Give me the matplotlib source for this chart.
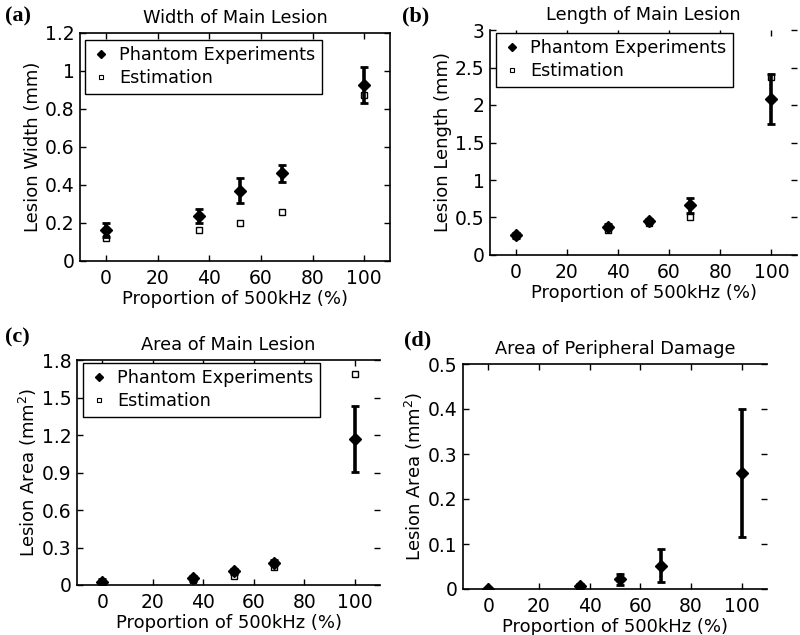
import matplotlib
matplotlib.use("Agg")
import matplotlib.pyplot as plt
import numpy as np

plt.rcParams['font.family'] = ['DejaVu Sans']
plt.rcParams['mathtext.default'] = 'regular'

x = [0, 36, 52, 68, 100]

# (a) width
width_exp = [0.163, 0.237, 0.37, 0.462, 0.928]
width_err = [0.035, 0.035, 0.066, 0.045, 0.095]
width_est = [0.12, 0.163, 0.20, 0.258, 0.873]

# (b) length
length_exp = [0.26, 0.377, 0.456, 0.665, 2.08]
length_err = [0.03, 0.03, 0.03, 0.10, 0.33]
length_est = [0.25, 0.33, 0.43, 0.51, 2.37]

# (c) area
area_exp = [0.027, 0.053, 0.11, 0.18, 1.168]
area_err = [0.02, 0.02, 0.02, 0.02, 0.265]
area_est = [0.02, 0.04, 0.07, 0.147, 1.685]

# (d) peripheral
peri_exp = [0.0, 0.006, 0.022, 0.052, 0.258]
peri_err = [0.003, 0.005, 0.012, 0.036, 0.143]

titles = ["Width of Main Lesion", "Length of Main Lesion",
          "Area of Main Lesion", "Area of Peripheral Damage"]
ylabels = ["Lesion Width (mm)", "Lesion Length (mm)",
           "Lesion Area (mm$^2$)", "Lesion Area (mm$^2$)"]
panel_labels = ["(a)", "(b)", "(c)", "(d)"]
xlabel = "Proportion of 500kHz (%)"

yticks = [
    [0, 0.2, 0.4, 0.6, 0.8, 1.0, 1.2],
    [0, 0.5, 1, 1.5, 2, 2.5, 3],
    [0, 0.3, 0.6, 0.9, 1.2, 1.5, 1.8],
    [0, 0.1, 0.2, 0.3, 0.4, 0.5],
]
yticklabels = [
    ["0", "0.2", "0.4", "0.6", "0.8", "1", "1.2"],
    ["0", "0.5", "1", "1.5", "2", "2.5", "3"],
    ["0", "0.3", "0.6", "0.9", "1.2", "1.5", "1.8"],
    ["0", "0.1", "0.2", "0.3", "0.4", "0.5"],
]
xticks = [0, 20, 40, 60, 80, 100]

W, H = 800, 635
fig = plt.figure(figsize=(8, 6.35), dpi=100)

def rect(l, r, t, b):
    return [l / W, 1 - b / H, (r - l) / W, (b - t) / H]

rects = [rect(80, 390, 33, 261), rect(490, 797, 30, 255),
         rect(77, 380, 360, 585), rect(463, 767, 364, 589)]
spines_on = [
    dict(top=True, right=True),
    dict(top=False, right=False),
    dict(top=True, right=False),
    dict(top=True, right=False),
]
legend_pos = [(85, 40), (496, 33), (83, 363), None]
label_pos = [(5, 16), (402, 16), (5, 337), (404, 340)]

exps = [width_exp, length_exp, area_exp, peri_exp]
errs = [width_err, length_err, area_err, peri_err]
ests = [width_est, length_est, area_est, None]

fs = 12.5
for i in range(4):
    ax = fig.add_axes(rects[i])
    ax.errorbar(x, exps[i], yerr=errs[i], fmt='D', color='black',
                ms=6.5, elinewidth=2.6, capsize=3, capthick=2,
                label='Phantom Experiments', zorder=3)
    if ests[i] is not None:
        ax.plot(x, ests[i], 's', ms=4.5, mfc='white', mec='black', mew=1,
                label='Estimation', zorder=2)
    ax.set_xlim(-10, 110)
    ax.set_ylim(yticks[i][0], yticks[i][-1])
    ax.set_xticks(xticks)
    ax.set_xticklabels([str(v) for v in xticks], fontsize=fs + 1)
    ax.set_yticks(yticks[i])
    ax.set_yticklabels(yticklabels[i], fontsize=fs + 1)
    ax.tick_params(direction='in', top=True, right=True, length=4,
                   width=1)
    ax.tick_params(axis='y', pad=4)
    ax.tick_params(axis='x', pad=6)
    for s in ['top', 'right']:
        ax.spines[s].set_visible(spines_on[i][s])
    for s in ax.spines.values():
        s.set_linewidth(1.2)
    ax.set_xlabel(xlabel, fontsize=fs + 0.5, labelpad=1)
    ax.set_ylabel(ylabels[i], fontsize=fs + 0.5, labelpad=2)
    ax.set_title(titles[i], fontsize=12.8, pad=7)
    if legend_pos[i] is not None:
        lx, ly = legend_pos[i]
        hs2 = [plt.Line2D([], [], ls='none', marker='D', color='black', ms=4),
               plt.Line2D([], [], ls='none', marker='s', ms=3.5, mfc='white',
                          mec='black', mew=0.8)]
        leg = ax.legend(hs2, ['Phantom Experiments', 'Estimation'],
                        loc='upper left', bbox_to_anchor=(lx / W, 1 - ly / H),
                        bbox_transform=fig.transFigure, fontsize=fs + 0.2,
                        frameon=True, fancybox=False, edgecolor='black',
                        framealpha=1, borderpad=0.35, handletextpad=0.5,
                        handlelength=1.1, labelspacing=0.3, borderaxespad=0)
        leg.get_frame().set_linewidth(1.0)
    fig.text(label_pos[i][0] / W, 1 - label_pos[i][1] / H, panel_labels[i],
             fontsize=16, fontweight='bold', family='Liberation Serif',
             va='center', ha='left')

fig.savefig("out.png", dpi=100)
